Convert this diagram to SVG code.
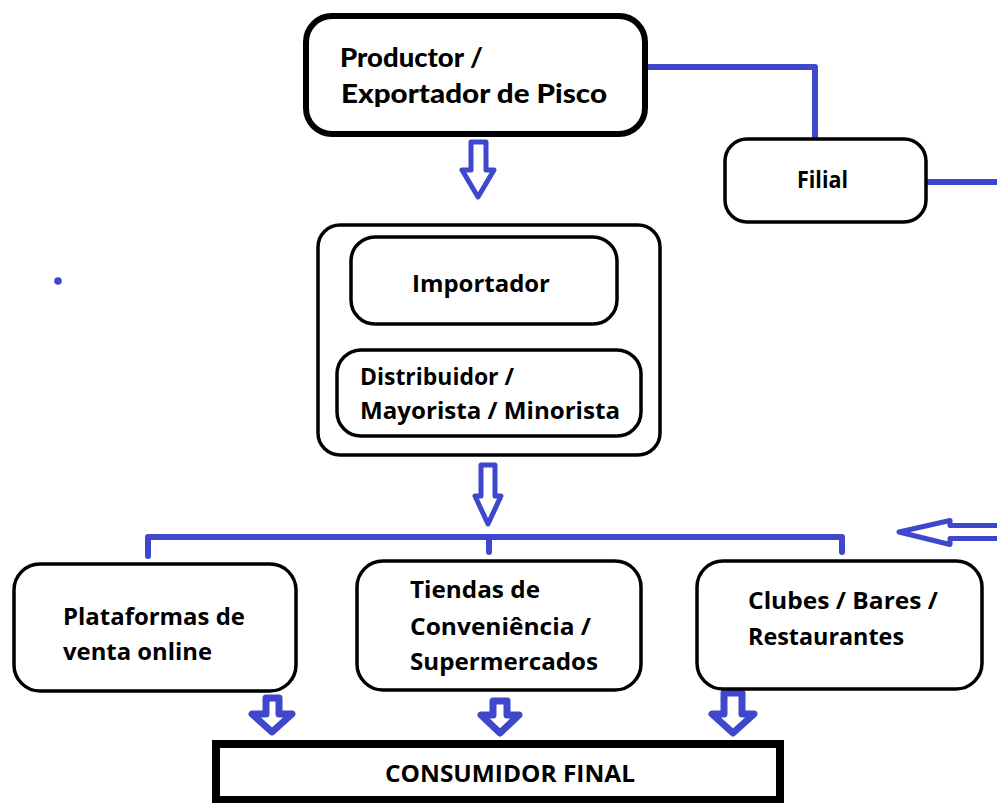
<svg xmlns="http://www.w3.org/2000/svg" width="997" height="803" viewBox="0 0 997 803">
<style>
.box{fill:#fff;stroke:#000;}
.t{font-family:"Open Sans","Liberation Sans",sans-serif;font-weight:700;font-size:23px;fill:#000;}
.tw{font-family:Lato,"Open Sans",sans-serif;font-weight:900;font-size:27px;fill:#000;}
.ln{fill:none;stroke:#3f48cc;stroke-width:6;stroke-linecap:round;stroke-linejoin:round;}
.ar{fill:#fff;stroke:#3f48cc;stroke-width:5;stroke-linejoin:round;}
.arb{fill:#fff;stroke:#3f48cc;stroke-width:7;stroke-linejoin:round;}
</style>
<rect width="997" height="803" fill="#fff"/>
<g id="connectors">
<path class="ln" d="M648,67 H815 V137"/>
<path class="ln" d="M927,182 H1000"/>
<path class="ln" d="M148,556 V537 H842 V552"/>
<path class="ln" d="M489,537 V552"/>
<path class="ar" d="M471,142 H486 V170 H494 L478,197 L462,170 H471 Z"/>
<path class="ar" d="M481,465 H495 V496 H501 L488,524 L475,496 H481 Z"/>
<path class="arb" d="M266,698 H279 V714 H292 L272,732 L252,714 H266 Z"/>
<path class="arb" d="M493,701 H507 V715 H519 L500,733 L481,715 H493 Z"/>
<path class="arb" d="M724,693 H742 V714 H754 L733,733 L712,714 H724 Z"/>
<path class="ar" d="M1002,525.5 H950 V520.5 L899,532 L950,544.5 V538.5 H1002 Z"/>
<circle cx="58" cy="281" r="3.8" fill="#3f48cc"/>
</g>
<g id="productor">
<rect class="box" x="306" y="16" width="339" height="118" rx="26" stroke-width="6"/>
<text class="tw" x="340" y="67" textLength="143" lengthAdjust="spacingAndGlyphs">Productor /</text>
<text class="tw" x="341" y="103" textLength="266" lengthAdjust="spacingAndGlyphs">Exportador de Pisco</text>
</g>
<g id="filial">
<rect class="box" x="725" y="139" width="201" height="83" rx="22" stroke-width="3.5"/>
<text class="t" x="797" y="188" textLength="51" lengthAdjust="spacingAndGlyphs">Filial</text>
</g>
<g id="intermediarios">
<rect class="box" x="318" y="225" width="342" height="230" rx="22" stroke-width="3.5"/>
<g id="importador">
<rect class="box" x="351" y="237" width="266" height="87" rx="24" stroke-width="3.5"/>
<text class="t" x="412" y="292" textLength="138" lengthAdjust="spacingAndGlyphs">Importador</text>
</g>
<g id="distribuidor">
<rect class="box" x="337" y="350" width="304" height="86" rx="24" stroke-width="3.5"/>
<text class="t" x="360" y="385" textLength="154" lengthAdjust="spacingAndGlyphs">Distribuidor /</text>
<text class="t" x="360" y="419" textLength="260" lengthAdjust="spacingAndGlyphs">Mayorista / Minorista</text>
</g>
</g>
<g id="plataformas">
<rect class="box" x="14" y="564" width="282" height="127" rx="26" stroke-width="3.5"/>
<text class="t" x="63" y="625" textLength="182" lengthAdjust="spacingAndGlyphs">Plataformas de</text>
<text class="t" x="63" y="660" textLength="149" lengthAdjust="spacingAndGlyphs">venta online</text>
</g>
<g id="tiendas">
<rect class="box" x="357" y="561" width="284" height="129" rx="26" stroke-width="3.5"/>
<text class="t" x="410" y="598" textLength="130" lengthAdjust="spacingAndGlyphs">Tiendas de</text>
<text class="t" x="410" y="635" textLength="181" lengthAdjust="spacingAndGlyphs">Conveniência /</text>
<text class="t" x="410" y="670" textLength="188" lengthAdjust="spacingAndGlyphs">Supermercados</text>
</g>
<g id="clubes">
<rect class="box" x="697" y="561" width="285" height="128" rx="26" stroke-width="3.5"/>
<text class="t" x="748" y="609" textLength="190" lengthAdjust="spacingAndGlyphs">Clubes / Bares /</text>
<text class="t" x="748" y="645" textLength="156" lengthAdjust="spacingAndGlyphs">Restaurantes</text>
</g>
<g id="consumidor">
<rect class="box" x="216" y="744" width="564" height="56" stroke-width="8"/>
<text class="t" x="385" y="782" textLength="250" lengthAdjust="spacingAndGlyphs">CONSUMIDOR FINAL</text>
</g>
</svg>
